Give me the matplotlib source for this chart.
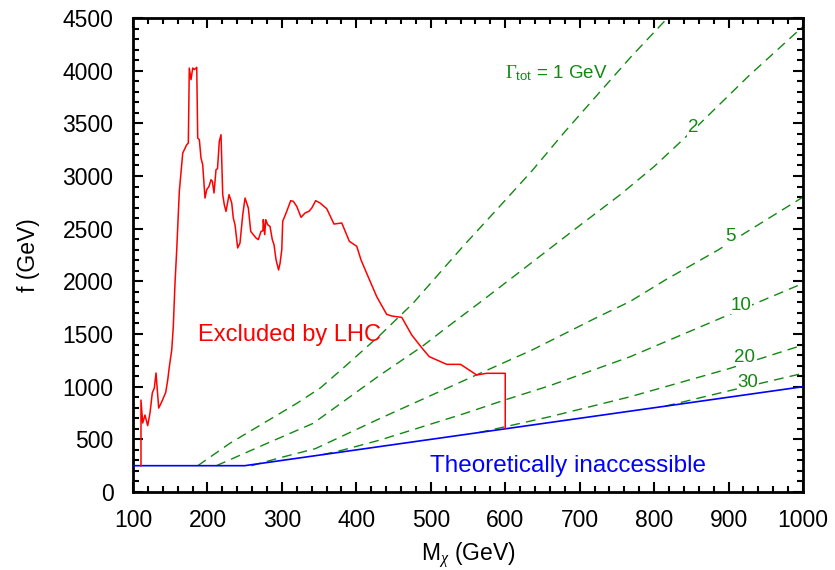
import matplotlib
matplotlib.use("Agg")
import matplotlib.pyplot as plt
from matplotlib.ticker import MultipleLocator

plt.rcParams['font.family'] = ['Liberation Sans', 'DejaVu Sans']
plt.rcParams['mathtext.fontset'] = 'custom'
plt.rcParams['mathtext.rm'] = 'Liberation Serif'
plt.rcParams['mathtext.it'] = 'Liberation Serif:italic'
plt.rcParams['mathtext.sf'] = 'Liberation Sans'

# LHC exclusion contour (M_chi, f)
lhc_M = [110.7, 110.7, 113.0, 116.1, 119.7, 122.8, 125.9, 128.6, 130.9, 134.5, 138.6,
         143.9, 146.6, 148.8, 152.0, 154.1, 156.4, 158.7, 162.2, 166.8, 172.1, 174.3,
         175.6, 177.9, 180.2, 182.5, 185.6, 186.9, 189.1, 191.3, 193.6, 196.7, 199.0,
         202.1, 204.8, 206.6, 208.8, 211.5, 213.5, 215.9, 218.2, 220.5, 222.6, 224.9,
         229.0, 232.6, 234.7, 237.0, 240.6, 243.7, 247.4, 250.5, 254.9, 258.1, 261.6,
         265.2, 268.3, 272.0, 274.5, 275.0, 276.9, 278.3, 280.9, 284.0, 287.1, 289.4,
         292.1, 295.5, 297.5, 299.8, 301.1, 306.5, 311.8, 315.3, 319.9, 325.7, 331.1,
         336.4, 340.1, 345.4, 351.2, 360.2, 370.0, 380.4, 390.6, 400.5, 406.3, 413.9,
         427.4, 440.7, 447.5, 461.0, 474.4, 487.8, 498.0, 521.4, 540.0, 561.7, 575.0,
         600.0, 600.0]
lhc_f = [250, 873, 655, 731, 630, 750, 940, 987, 1130, 797, 857,
         945, 1063, 1190, 1348, 1570, 1983, 2298, 2855, 3218, 3297, 3313,
         4025, 3915, 4025, 4010, 4032, 3361, 3345, 3171, 3108, 2791, 2870,
         2902, 2965, 2950, 2839, 3060, 3070, 3329, 3392, 2823, 2728, 2664,
         2823, 2744, 2601, 2538, 2317, 2364, 2633, 2791, 2696, 2475, 2443,
         2412, 2396, 2475, 2480, 2586, 2443, 2586, 2538, 2522, 2396, 2348,
         2206, 2108, 2171, 2298, 2570, 2665, 2766, 2760, 2712, 2608, 2649,
         2665, 2696, 2766, 2744, 2690, 2544, 2554, 2380, 2333, 2203, 2076,
         1854, 1687, 1671, 1658, 1491, 1370, 1285, 1212, 1212, 1111, 1127,
         1127, 605]

# Theoretical boundary
th_M = [100, 250, 1000]
th_f = [250, 250, 1000]

# Constant total width contours
g1_M = [187, 230, 275, 320, 352, 387, 432, 476, 543, 591, 636, 680, 725, 770, 818]
g1_f = [250, 462, 652, 842, 990, 1206, 1491, 1791, 2330, 2700, 3050, 3420, 3781, 4140, 4500]
g2_M = [212, 280, 342, 432, 488, 521, 566, 611, 656, 700, 754, 800, 859, 927, 1000]
g2_f = [250, 462, 652, 1111, 1380, 1560, 1800, 2044, 2290, 2530, 2820, 3090, 3480, 3950, 4420]
g5_M = [259, 300, 345, 432, 546, 636, 725, 768, 815, 886, 922, 1000]
g5_f = [250, 330, 412, 699, 1063, 1348, 1664, 1810, 2013, 2298, 2459, 2800]
g10_M = [355, 382, 432, 546, 600, 660, 768, 931, 1000]
g10_f = [355, 399, 494, 747, 875, 1010, 1285, 1775, 1981]
g20_M = [565, 600, 660, 768, 900, 1000]
g20_f = [565, 620, 715, 905, 1170, 1396]
g30_M = [815, 900, 1000]
g30_f = [815, 960, 1127]

widths = [(g1_M, g1_f), (g2_M, g2_f), (g5_M, g5_f), (g10_M, g10_f), (g20_M, g20_f), (g30_M, g30_f)]
width_labels = ['2', '5', '10', '20', '30']
width_label_pos = [(852, 3456), (903, 2428), (917, 1775), (921, 1279), (926, 1038)]

green = '#118811'

fig = plt.figure(figsize=(8.35, 5.70), dpi=100)
ax = fig.add_axes([0.1593, 0.1368, 0.8024, 0.8316])

for M, f in widths:
    ax.plot(M, f, color=green, lw=1.0, ls=(0, (7, 4.5)), zorder=2)
ax.plot(th_M, th_f, color='blue', lw=1.2, zorder=3)
ax.plot(lhc_M, lhc_f, color='red', lw=1.1, zorder=4)

for lab, (x, y) in zip(width_labels, width_label_pos):
    ax.text(x, y, lab, color=green, fontsize=13.5, ha='center', va='center',
            bbox=dict(facecolor='white', edgecolor='none', pad=0.3), zorder=5)
ax.text(600, 3980, r'$\Gamma_{\mathsf{tot}}$ = 1 GeV', color=green, fontsize=13.5,
        ha='left', va='center', zorder=5)

ax.text(310, 1490, 'Excluded by LHC', color='red', fontsize=17, ha='center', va='center')
ax.text(684, 247, 'Theoretically inaccessible', color='blue', fontsize=17.5,
        ha='center', va='center')

ax.set_xlim(100, 1000)
ax.set_ylim(0, 4500)
ax.xaxis.set_major_locator(MultipleLocator(100))
ax.xaxis.set_minor_locator(MultipleLocator(20))
ax.yaxis.set_major_locator(MultipleLocator(500))
ax.yaxis.set_minor_locator(MultipleLocator(100))
ax.tick_params(which='both', direction='in', top=True, right=True, width=1.5, labelsize=16.5)
ax.tick_params(which='major', length=7)
ax.tick_params(axis='x', which='major', pad=12)
ax.tick_params(axis='y', which='major', pad=14)
ax.tick_params(which='minor', length=4)
for s in ax.spines.values():
    s.set_linewidth(2)

ax.set_xlabel(r'M$_\chi$ (GeV)', fontsize=16.5, labelpad=6)
ax.set_ylabel('f (GeV)', fontsize=16.5, labelpad=16)

fig.savefig('out.png', dpi=100)
